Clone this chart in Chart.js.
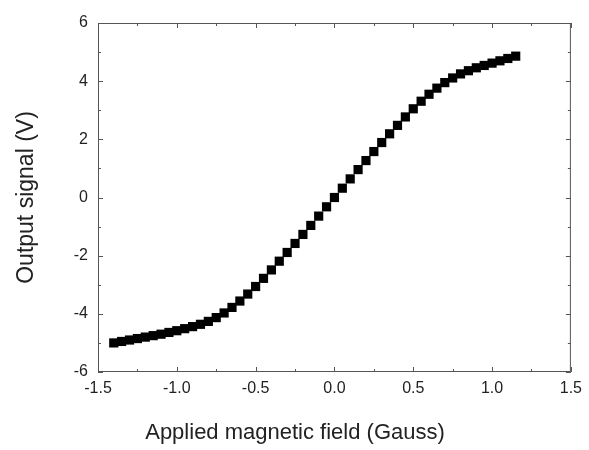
<!DOCTYPE html>
<html>
<head>
<meta charset="utf-8">
<script src="https://cdn.jsdelivr.net/npm/chart.js@4/dist/chart.umd.min.js"></script>
<style>
  html, body { margin: 0; padding: 0; background: #fff; }
  #wrap { width: 589px; height: 450px; }
</style>
</head>
<body>
<div id="wrap"><canvas id="hall"></canvas></div>
<script>
const fieldValues = [
  -1.40, -1.35, -1.30, -1.25, -1.20, -1.15, -1.10, -1.05, -1.00, -0.95,
  -0.90, -0.85, -0.80, -0.75, -0.70, -0.65, -0.60, -0.55, -0.50, -0.45,
  -0.40, -0.35, -0.30, -0.25, -0.20, -0.15, -0.10, -0.05, 0.00, 0.05,
  0.10, 0.15, 0.20, 0.25, 0.30, 0.35, 0.40, 0.45, 0.50, 0.55,
  0.60, 0.65, 0.70, 0.75, 0.80, 0.85, 0.90, 0.95, 1.00, 1.05,
  1.10, 1.15
];
const outputValues = [
  -5.00, -4.95, -4.90, -4.85, -4.80, -4.75, -4.70, -4.64, -4.58, -4.51,
  -4.44, -4.36, -4.26, -4.13, -3.97, -3.78, -3.56, -3.32, -3.06, -2.78,
  -2.49, -2.19, -1.89, -1.58, -1.27, -0.96, -0.64, -0.32, 0.00, 0.32,
  0.64, 0.96, 1.27, 1.58, 1.89, 2.19, 2.48, 2.77, 3.05, 3.31,
  3.55, 3.76, 3.95, 4.11, 4.25, 4.36, 4.46, 4.54, 4.62, 4.70,
  4.78, 4.86
];
const xTicks = [-1.5, -1.0, -0.5, 0.0, 0.5, 1.0, 1.5];
const yTicks = [-6, -4, -2, 0, 2, 4, 6];
const xMinorStep = 0.25;
const yMinorStep = 1;
const xTitle = 'Applied magnetic field (Gauss)';

const points = fieldValues.map((x, i) => ({ x: x, y: outputValues[i] }));

// draws the box and inward ticks on all four sides, plus the x title
const frameTicks = {
  id: 'frameTicks',
  afterDatasetsDraw(chart) {
    const ctx = chart.ctx;
    const a = chart.chartArea;
    const xs = chart.scales.x;
    const ys = chart.scales.y;
    ctx.save();
    ctx.strokeStyle = '#555';
    ctx.lineWidth = 1;
    ctx.strokeRect(a.left + 0.5, a.top + 0.5, a.right - a.left - 1, a.bottom - a.top - 1);
    ctx.beginPath();
    for (let v = xs.min; v <= xs.max + 1e-9; v += xMinorStep) {
      const px = Math.round(xs.getPixelForValue(v)) + 0.5;
      const major = Math.abs(v / 0.5 - Math.round(v / 0.5)) < 1e-6;
      const len = major ? 5 : 3;
      ctx.moveTo(px, a.bottom); ctx.lineTo(px, a.bottom - len);
      ctx.moveTo(px, a.top); ctx.lineTo(px, a.top + len);
    }
    for (let v = ys.min; v <= ys.max + 1e-9; v += yMinorStep) {
      const py = Math.round(ys.getPixelForValue(v)) + 0.5;
      const major = Math.abs(v / 2 - Math.round(v / 2)) < 1e-6;
      const len = major ? 5 : 3;
      ctx.moveTo(a.left, py); ctx.lineTo(a.left + len, py);
      ctx.moveTo(a.right, py); ctx.lineTo(a.right - len, py);
    }
    ctx.stroke();

    // x title sits a little left of the plot centre in the original
    ctx.fillStyle = '#222';
    ctx.font = '22px "Liberation Sans", Arial, sans-serif';
    ctx.textAlign = 'center';
    ctx.textBaseline = 'middle';
    ctx.fillText(xTitle, 295, 433);
    ctx.restore();
  }
};

const dataHall = {
  datasets: [{
    label: 'Output signal',
    data: points,
    showLine: false,
    pointStyle: 'rect',
    pointRadius: 6.5,
    pointBackgroundColor: '#000',
    pointBorderColor: '#000',
    pointBorderWidth: 0
  }]
};

const configHall = {
  type: 'scatter',
  data: dataHall,
  options: {
    responsive: false,
    animation: false,
    layout: { padding: { top: 23, right: 17, left: 0, bottom: 0 } },
    plugins: {
      legend: { display: false },
      tooltip: { enabled: false }
    },
    scales: {
      x: {
        type: 'linear',
        min: -1.5,
        max: 1.5,
        afterBuildTicks: scale => { scale.ticks = xTicks.map(v => ({ value: v })); },
        afterFit: scale => { scale.height = 78; },
        border: { display: false },
        grid: { display: false, drawTicks: false },
        ticks: {
          padding: 7,
          color: '#222',
          font: { family: 'Liberation Sans, Arial, sans-serif', size: 16 },
          callback: v => v.toFixed(1)
        },
        title: { display: false }
      },
      y: {
        type: 'linear',
        min: -6,
        max: 6,
        afterBuildTicks: scale => { scale.ticks = yTicks.map(v => ({ value: v })); },
        afterFit: scale => { scale.width = 98; },
        border: { display: false },
        grid: { display: false, drawTicks: false },
        ticks: {
          padding: 10,
          color: '#222',
          font: { family: 'Liberation Sans, Arial, sans-serif', size: 16 }
        },
        title: {
          display: true,
          text: 'Output signal (V)',
          color: '#222',
          font: { family: 'Liberation Sans, Arial, sans-serif', size: 23 },
          padding: { top: 13, bottom: 0 }
        }
      }
    }
  },
  plugins: [frameTicks]
};

const canvas = document.getElementById('hall');
canvas.width = 589;
canvas.height = 450;
const hall = new Chart(canvas, configHall);
</script>
</body>
</html>
